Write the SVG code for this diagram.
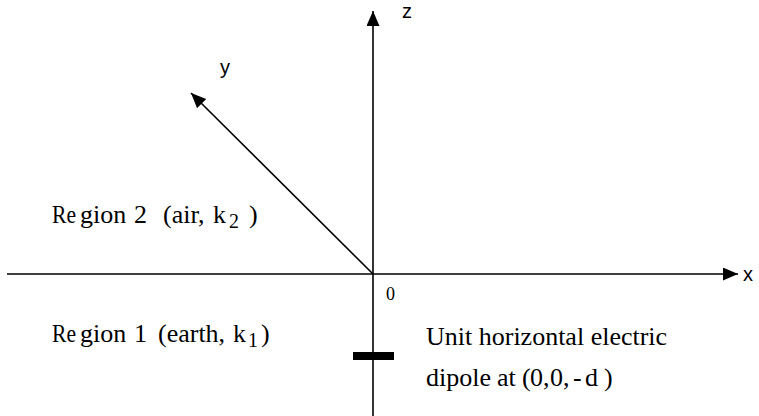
<svg xmlns="http://www.w3.org/2000/svg" width="759" height="416" viewBox="0 0 759 416">
<style>
.ax{stroke:#000;stroke-width:1.6;fill:none}
.serif{font-family:"Liberation Serif","Times New Roman",serif;fill:#000;font-size:26px}
.sub{font-size:20px}
.sans{font-family:"Liberation Sans",Arial,sans-serif;fill:#000;font-size:20px}
</style>
<defs>
<marker id="arr" markerUnits="userSpaceOnUse" markerWidth="16" markerHeight="14" refX="15" refY="6.5" orient="auto" viewBox="0 0 16 14">
<path d="M0,0 L15,6.5 L0,13 z" fill="#000"/>
</marker>
</defs>
<rect width="759" height="416" fill="#fff"/>
<g id="connectors">
<line class="ax" x1="7" y1="274" x2="738" y2="274" marker-end="url(#arr)"/>
<line class="ax" x1="373" y1="416" x2="373" y2="11" marker-end="url(#arr)"/>
<line class="ax" x1="373" y1="274" x2="191" y2="93" marker-end="url(#arr)"/>
</g>
<g id="labels">
<text class="sans" x="743" y="281">x</text>
<text class="sans" x="402" y="18">z</text>
<text class="sans" x="220" y="74">y</text>
<text class="serif" x="386" y="300" style="font-size:18px">0</text>
</g>
<g id="region2">
<text class="serif" x="52" y="223" textLength="24" lengthAdjust="spacingAndGlyphs">Re</text>
<text class="serif" y="223"><tspan x="80">gion</tspan><tspan x="134">2</tspan><tspan x="163">(air,</tspan><tspan x="213">k</tspan><tspan class="sub" x="229" dy="5">2</tspan><tspan x="249" dy="-5">)</tspan></text>
</g>
<g id="region1">
<text class="serif" x="52" y="342" textLength="24" lengthAdjust="spacingAndGlyphs">Re</text>
<text class="serif" y="342"><tspan x="80">gion</tspan><tspan x="134">1</tspan><tspan x="158">(earth,</tspan><tspan x="233">k</tspan><tspan class="sub" x="248" dy="5">1</tspan><tspan x="261" dy="-5">)</tspan></text>
</g>
<g id="dipole">
<rect x="353" y="352" width="41" height="8" fill="#000"/>
<text class="serif" x="426" y="345">Unit horizontal electric</text>
<text class="serif" y="386"><tspan x="426">dipole</tspan><tspan x="497">at</tspan><tspan x="522 530 543 550 563 573 585 604">(0,0,-d)</tspan></text>
</g>
</svg>
